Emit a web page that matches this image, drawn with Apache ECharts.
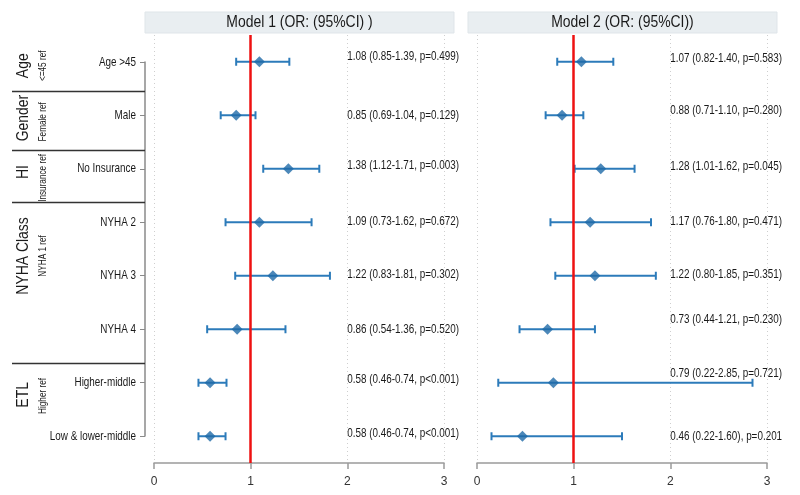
<!DOCTYPE html>
<html>
<head>
<meta charset="utf-8">
<script src="https://cdn.jsdelivr.net/npm/echarts@6/dist/echarts.min.js"></script>
<style>
  html, body { margin: 0; padding: 0; background: #fff; }
  #chart { width: 800px; height: 495px; }
</style>
</head>
<body>
<div id="chart"></div>
<script>
// row labels (top to bottom)
const rowLabels = ['Age >45', 'Male', 'No Insurance', 'NYHA 2', 'NYHA 3', 'NYHA 4', 'Higher-middle', 'Low & lower-middle']

// variable groups and their reference levels
const groupNames = ['Age', 'Gender', 'HI', 'NYHA Class', 'ETL']
const groupRefs = ['<=45 ref', 'Female ref', 'Insurance ref', 'NYHA 1 ref', 'Higher ref']

// Model 1 (as plotted)
const m1Or = [1.09, 0.85, 1.39, 1.09, 1.23, 0.86, 0.58, 0.58]
const m1Lo = [0.85, 0.69, 1.13, 0.74, 0.84, 0.55, 0.46, 0.46]
const m1Hi = [1.40, 1.05, 1.71, 1.63, 1.82, 1.36, 0.75, 0.74]
const m1Text = [
  '1.08 (0.85-1.39, p=0.499)', '0.85 (0.69-1.04, p=0.129)', '1.38 (1.12-1.71, p=0.003)',
  '1.09 (0.73-1.62, p=0.672)', '1.22 (0.83-1.81, p=0.302)', '0.86 (0.54-1.36, p=0.520)',
  '0.58 (0.46-0.74, p<0.001)', '0.58 (0.46-0.74, p<0.001)'
]

// Model 2 (as plotted)
const m2Or = [1.08, 0.88, 1.28, 1.17, 1.22, 0.73, 0.79, 0.47]
const m2Lo = [0.83, 0.71, 1.01, 0.76, 0.81, 0.44, 0.22, 0.15]
const m2Hi = [1.41, 1.10, 1.63, 1.80, 1.85, 1.22, 2.85, 1.50]
const m2Text = [
  '1.07 (0.82-1.40, p=0.583)', '0.88 (0.71-1.10, p=0.280)', '1.28 (1.01-1.62, p=0.045)',
  '1.17 (0.76-1.80, p=0.471)', '1.22 (0.80-1.85, p=0.351)', '0.73 (0.44-1.21, p=0.230)',
  '0.79 (0.22-2.85, p=0.721)', '0.46 (0.22-1.60), p=0.201'
]

const panelTitles = ['Model 1 (OR: (95%CI) )', 'Model 2 (OR: (95%CI))']
const xTicks = [0, 1, 2, 3]

// layout (not data)
const FONT = '"Liberation Sans", Arial, sans-serif'
const panels = [{ left: 154, width: 290 }, { left: 477, width: 290 }]
const textShift = [[-5, 0, -3, -1, -1, 0, -3, -3], [-3, -5, -2, -1, -1, -10, -9, 0]]
const groupRowPos = [0.07, 1.05, 2.06, 3.63, 6.23]
const refRowPos = [0.07, 1.12, 2.17, 3.63, 6.25]
const separatorPos = [0.54, 1.65, 2.62, 5.63]

const BAR = '#2c7bba'
const DOT = '#1f6aa8'

const chart = echarts.init(document.getElementById('chart'))

// squeezed text, mimics Arial Narrow
const narrowText = (x, y, text, size, align, scale, rotation) => ({
  type: 'text',
  x: x,
  y: y,
  rotation: rotation || 0,
  scaleX: scale,
  style: {
    x: 0,
    y: 0,
    text: text,
    fill: '#1a1a1a',
    font: size + 'px ' + FONT,
    textAlign: align,
    textVerticalAlign: 'middle'
  }
})

const grids = [
  { left: 12, width: 133, top: 62, bottom: 59 },
  ...panels.map(p => ({ left: p.left, width: p.width, top: 35, bottom: 32 }))
]

const xAxes = [
  { gridIndex: 0, type: 'value', min: 0, max: 133, show: false },
  ...panels.map((p, i) => ({
    gridIndex: i + 1,
    type: 'value',
    min: xTicks[0],
    max: xTicks[xTicks.length - 1],
    interval: 1,
    axisLine: { show: true, onZero: false, lineStyle: { color: '#9a9a9a', width: 1.5 } },
    axisTick: { show: true, length: 6, lineStyle: { color: '#9a9a9a', width: 1.5 } },
    axisLabel: { color: '#333', fontSize: 12, fontFamily: FONT, margin: 13 },
    splitLine: { show: true, lineStyle: { color: '#cfcfcf', type: [1, 3], width: 1 } }
  }))
]

const yAxes = [
  {
    gridIndex: 0,
    type: 'value',
    min: 0,
    max: rowLabels.length - 1,
    interval: 1,
    inverse: true,
    position: 'right',
    axisLine: { show: true, onZero: false, lineStyle: { color: '#8a8a8a', width: 1.5 } },
    axisTick: { show: true, inside: true, length: 5, lineStyle: { color: '#8a8a8a' } },
    axisLabel: { show: false },
    splitLine: { show: false }
  },
  ...panels.map((p, i) => ({
    gridIndex: i + 1,
    type: 'value',
    min: -0.5,
    max: rowLabels.length - 0.5,
    inverse: true,
    show: false
  }))
]

const errorBars = (lo, hi) => ({
  type: 'custom',
  renderItem: (params, api) => {
    const row = api.value(0)
    const a = api.coord([api.value(1), row])
    const b = api.coord([api.value(2), row])
    const cap = 4
    const style = { stroke: BAR, lineWidth: 2 }
    return {
      type: 'group',
      children: [
        { type: 'line', shape: { x1: a[0], y1: a[1], x2: b[0], y2: b[1] }, style },
        { type: 'line', shape: { x1: a[0], y1: a[1] - cap, x2: a[0], y2: a[1] + cap }, style },
        { type: 'line', shape: { x1: b[0], y1: b[1] - cap, x2: b[0], y2: b[1] + cap }, style }
      ]
    }
  },
  data: lo.map((v, i) => [i, v, hi[i]]),
  encode: { x: [1, 2], y: 0 },
  z: 2,
  silent: true
})

const series = []

panels.forEach((p, k) => {
  const lo = k === 0 ? m1Lo : m2Lo
  const hi = k === 0 ? m1Hi : m2Hi
  const or = k === 0 ? m1Or : m2Or
  const txt = k === 0 ? m1Text : m2Text

  series.push({
    ...errorBars(lo, hi),
    xAxisIndex: k + 1,
    yAxisIndex: k + 1,
    markLine: {
      silent: true,
      symbol: 'none',
      label: { show: false },
      lineStyle: { color: '#ee1111', width: 2.5, type: 'solid' },
      data: [{ xAxis: 1 }],
      z: 4
    }
  })

  series.push({
    type: 'scatter',
    xAxisIndex: k + 1,
    yAxisIndex: k + 1,
    symbol: 'diamond',
    symbolSize: 11,
    itemStyle: { color: DOT },
    data: or.map((v, i) => [v, i]),
    z: 5,
    silent: true
  })

  // annotation text anchored at x = 2
  series.push({
    type: 'custom',
    xAxisIndex: k + 1,
    yAxisIndex: k + 1,
    clip: false,
    silent: true,
    renderItem: (params, api) => {
      const pt = api.coord([2, api.value(0)])
      return narrowText(pt[0], pt[1] + textShift[k][params.dataIndex], txt[params.dataIndex], 13, 'left', 0.76)
    },
    data: txt.map((t, i) => [i]),
    encode: { y: 0 },
    z: 6
  })
})

// row labels, left of the label axis
series.push({
  type: 'custom',
  xAxisIndex: 0,
  yAxisIndex: 0,
  clip: false,
  silent: true,
  renderItem: (params, api) => {
    const pt = api.coord([133, api.value(0)])
    return narrowText(pt[0] - 9, pt[1], rowLabels[params.dataIndex], 13, 'right', 0.76)
  },
  data: rowLabels.map((r, i) => [i]),
  encode: { y: 0 }
})

// group titles + separators
series.push({
  type: 'custom',
  xAxisIndex: 0,
  yAxisIndex: 0,
  clip: false,
  silent: true,
  renderItem: (params, api) => {
    const pt = api.coord([11, api.value(0)])
    return narrowText(pt[0], pt[1], groupNames[params.dataIndex], 17, 'center', 0.82, Math.PI / 2)
  },
  data: groupRowPos.map(v => [v]),
  encode: { y: 0 },
  markLine: {
    silent: true,
    symbol: 'none',
    label: { show: false },
    lineStyle: { color: '#333', width: 1.3, type: 'solid' },
    data: separatorPos.map(v => ({ yAxis: v }))
  }
})

series.push({
  type: 'custom',
  xAxisIndex: 0,
  yAxisIndex: 0,
  clip: false,
  silent: true,
  renderItem: (params, api) => {
    const pt = api.coord([31, api.value(0)])
    return narrowText(pt[0], pt[1], groupRefs[params.dataIndex], 10, 'center', 0.82, Math.PI / 2)
  },
  data: refRowPos.map(v => [v]),
  encode: { y: 0 }
})

// panel header strips
const graphic = []
panels.forEach((p, k) => {
  graphic.push({
    type: 'rect',
    shape: { x: p.left - 9, y: 12, width: p.width + 19, height: 21 },
    style: { fill: '#e9eef1', stroke: '#dfe5e9', lineWidth: 1 },
    silent: true
  })
  graphic.push({ ...narrowText(p.left + p.width / 2 + 0.5, 22.5, panelTitles[k], 17, 'center', 0.82), silent: true })
})

chart.setOption({
  backgroundColor: '#fff',
  animation: false,
  grid: grids,
  xAxis: xAxes,
  yAxis: yAxes,
  series: series,
  graphic: graphic
})
</script>
</body>
</html>
